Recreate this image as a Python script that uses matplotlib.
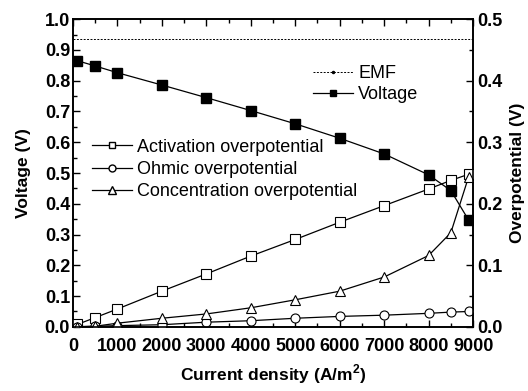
import matplotlib.pyplot as plt
from matplotlib.lines import Line2D
from matplotlib.ticker import MultipleLocator

plt.rcParams['font.family'] = ['Liberation Sans', 'DejaVu Sans']

# data
current = [100, 500, 1000, 2000, 3000, 4000, 5000, 6000, 7000, 8000, 8500, 8900]
voltage = [0.865, 0.848, 0.826, 0.786, 0.745, 0.703, 0.660, 0.613, 0.562, 0.494, 0.443, 0.347]
emf_x = [0, 9000]
emf = [0.935, 0.935]
activation = [0.004, 0.015, 0.029, 0.058, 0.086, 0.115, 0.142, 0.170, 0.197, 0.224, 0.238, 0.248]
ohmic = [0.0005, 0.001, 0.002, 0.0035, 0.0076, 0.010, 0.014, 0.017, 0.019, 0.022, 0.024, 0.025]
concentration = [0.0, 0.001, 0.006, 0.014, 0.021, 0.031, 0.044, 0.058, 0.081, 0.116, 0.153, 0.244]

fig = plt.figure(figsize=(5.28, 3.91), dpi=100)
ax1 = fig.add_axes([0.138, 0.164, 0.758, 0.787])
ax2 = ax1.twinx()

lw = 0.9
ms = 6.5
ax1.plot(emf_x, emf, color='k', lw=0.7, ls=(0, (2, 1.5)))
ax1.plot(current, voltage, color='k', lw=lw, marker='s', ms=ms, mfc='k', mec='k')

ax2.plot(current, activation, color='k', lw=lw, marker='s', ms=ms, mfc='white', mec='k', mew=0.8)
ax2.plot(current, ohmic, color='k', lw=lw, marker='o', ms=ms, mfc='white', mec='k', mew=0.8)
ax2.plot(current, concentration, color='k', lw=lw, marker='^', ms=ms + 1, mfc='white', mec='k', mew=0.8)

ax1.set_xlim(0, 9000)
ax1.set_ylim(0, 1.0)
ax2.set_ylim(0, 0.5)

ax1.xaxis.set_major_locator(MultipleLocator(1000))
ax1.xaxis.set_minor_locator(MultipleLocator(500))
ax1.yaxis.set_major_locator(MultipleLocator(0.1))
ax1.yaxis.set_minor_locator(MultipleLocator(0.05))
ax2.yaxis.set_major_locator(MultipleLocator(0.1))
ax2.yaxis.set_minor_locator(MultipleLocator(0.05))

ax1.tick_params(axis='both', which='both', direction='in', top=True, labelsize=13, width=1)
ax1.tick_params(which='major', length=5)
ax1.tick_params(which='minor', length=3)
ax1.tick_params(axis='x', pad=8)
ax1.tick_params(axis='y', pad=2)
ax2.tick_params(axis='y', which='both', direction='in', labelsize=13, width=1, pad=3)
ax2.tick_params(which='major', length=5)
ax2.tick_params(which='minor', length=3)
for t in ax1.get_xticklabels() + ax1.get_yticklabels() + ax2.get_yticklabels():
    t.set_fontweight('bold')
ax1.yaxis.set_major_formatter(plt.FuncFormatter(lambda v, p: '%.1f' % v))
ax2.yaxis.set_major_formatter(plt.FuncFormatter(lambda v, p: '%.1f' % v))
for ax in (ax1, ax2):
    for s in ax.spines.values():
        s.set_linewidth(1.2)

ax1.set_xlabel('Current density (A/m$^\\mathregular{2}$)', fontsize=12.5, fontweight='bold', labelpad=5)
ax1.set_ylabel('Voltage (V)', fontsize=12.5, fontweight='bold', labelpad=10)
ax2.set_ylabel('Overpotential (V)', fontsize=12.5, fontweight='bold', labelpad=5)

h_emf = Line2D([], [], color='k', lw=0.7, ls=(0, (2, 1.5)), marker='.', ms=3)
h_v = Line2D([], [], color='k', lw=lw, marker='s', ms=5, mfc='k')
leg1 = ax2.legend([h_emf, h_v], ['EMF', 'Voltage'], loc='upper left',
                  bbox_to_anchor=(0.6, 0.85), frameon=False, fontsize=13,
                  handlelength=2.2, handletextpad=0.3, labelspacing=0.2,
                  borderpad=0, borderaxespad=0)
ax2.add_artist(leg1)

h_a = Line2D([], [], color='k', lw=lw, marker='s', ms=5, mfc='white')
h_o = Line2D([], [], color='k', lw=lw, marker='o', ms=5, mfc='white')
h_c = Line2D([], [], color='k', lw=lw, marker='^', ms=6, mfc='white')
ax2.legend([h_a, h_o, h_c],
           ['Activation overpotential', 'Ohmic overpotential', 'Concentration overpotential'],
           loc='upper left', bbox_to_anchor=(0.0475, 0.612), frameon=False, fontsize=13,
           handlelength=2.2, handletextpad=0.3, labelspacing=0.3,
           borderpad=0, borderaxespad=0)

fig.savefig('out.png', dpi=100)
